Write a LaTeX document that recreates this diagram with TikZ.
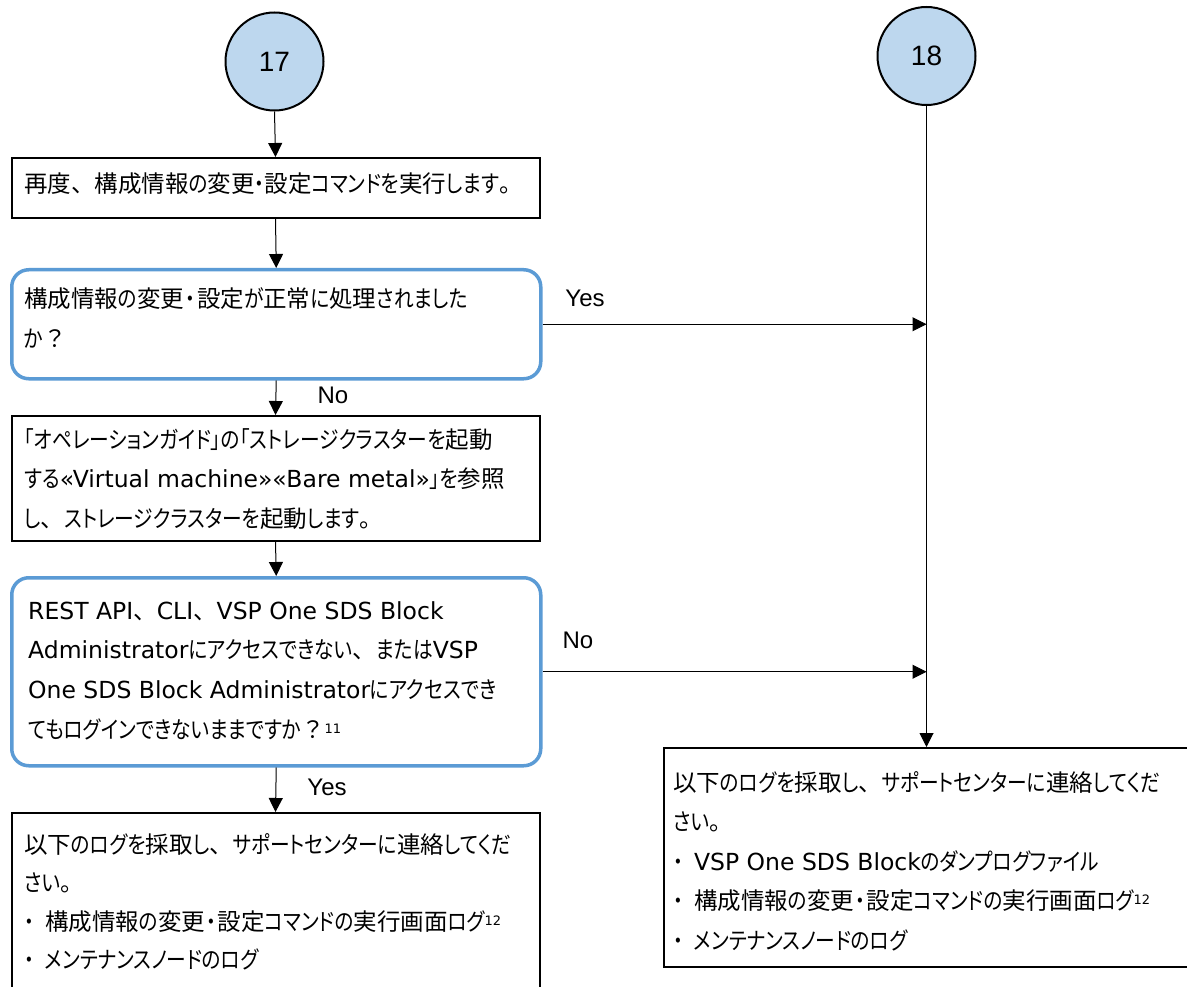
\documentclass[tikz,border=0pt]{standalone}
\usepackage{fontspec}
\setmainfont{DejaVu Sans}
\newfontfamily\jpfont{Noto Sans CJK JP}
\newfontfamily\kanafont[RawFeature=+palt, FakeStretch=0.84]{Noto Sans CJK JP}
\newfontfamily\latfont{DejaVu Sans}
\newfontfamily\lblfont{Liberation Sans}
\usetikzlibrary{arrows.meta}
\definecolor{nodeblue}{HTML}{BDD7EE}
\definecolor{edgeblue}{HTML}{5B9BD5}
\newcommand\lat[1]{{\latfont #1}}
\newcommand\K[1]{{\kanafont #1}}
\newcommand\dt{\hspace{1.5pt}\K{・}\hspace{1.5pt}}
\newcommand\bul{\K{・}\hspace{11pt}}
\newcommand\supnum[1]{\raisebox{5pt}{\latfont\fontsize{13}{13}\selectfont #1}}
\begin{document}
\begin{tikzpicture}[x=1pt,y=-1pt,
  conn/.style={circle, draw=black, line width=2pt, fill=nodeblue, minimum size=98pt, inner sep=0pt, font=\lblfont\fontsize{28}{30}\selectfont},
  procbox/.style={rectangle, draw=black, line width=2pt, anchor=north west, inner sep=0pt},
  decbox/.style={rectangle, draw=edgeblue, line width=3.5pt, rounded corners=17pt, anchor=north west, inner sep=0pt},
  txt/.style={anchor=base west, inner sep=0pt, font=\jpfont\fontsize{23.5}{28}\selectfont},
  lbl/.style={anchor=base, inner sep=0pt, font=\lblfont\fontsize{24}{28}\selectfont},
  arr/.style={draw=black, line width=1pt, -{Triangle[width=14pt,length=14pt]}}]
\clip (0,0) rectangle (1187,987);
\fill[white] (0,0) rectangle (1187,987);

% connectors (circles)
\node[conn] (c17) at (274.5,61.5) {17};
\node[conn] (c18) at (926.5,56) {18};

% boxes
\node[procbox, minimum width=528pt, minimum height=60pt] (b1) at (10.5,157) {};
\node[decbox, minimum width=529pt, minimum height=109pt] (d1) at (10,268) {};
\node[procbox, minimum width=528pt, minimum height=125pt] (b2) at (10.5,415) {};
\node[decbox, minimum width=529pt, minimum height=188pt] (d2) at (10,576) {};
\node[procbox, minimum width=528pt, minimum height=200pt] (b3) at (10.5,812) {};
\node[procbox, minimum width=545pt, minimum height=219pt] (b4) at (663,747) {};

% texts
\node[txt] (b1l1) at (24,193) {再度、構成情報\K{の}変更\K{・}設定\K{コマンドを}実行\K{します}。};

\node[txt] (d1l1) at (24,308) {構成情報\K{の}変更\dt 設定\K{が}正常\K{に}処理\K{されました}};
\node[txt] (d1l2) at (24,348) {\K{か}？};

\node[txt] (b2l1) at (24,448.5) {\K{「オペレーションガイド」の「ストレージクラスターを}起動};
\node[txt] (b2l2) at (24,487) {\K{する}\lat{«Virtual machine»«Bare metal»}\K{」を}参照};
\node[txt] (b2l3) at (24,527) {\K{し}、\K{ストレージクラスターを}起動\K{します}。};

\node[txt] (d2l1) at (28,619) {\lat{REST API}、\lat{CLI}、\lat{VSP One SDS Block}};
\node[txt] (d2l2) at (28,658.5) {\lat{Administrator}\K{にアクセスできない}、\K{または}\lat{VSP}};
\node[txt] (d2l3) at (28,698) {\lat{One SDS Block Administrator}\K{にアクセスでき}};
\node[txt] (d2l4) at (28,738) {\K{てもログインできないままですか}？\supnum{11}};

\node[txt] (b3l1) at (24,853) {以下\K{のログを}採取\K{し}、\K{サポートセンターに}連絡\K{してくだ}};
\node[txt] (b3l2) at (24,891.5) {\K{さい}。};
\node[txt] (b3l3) at (24,930) {\bul 構成情報\K{の}変更\dt 設定\K{コマンドの}実行画面\K{ログ}\supnum{12}};
\node[txt] (b3l4) at (24,968.5) {\bul \K{メンテナンスノードのログ}};

\node[txt] (b4l1) at (673,791) {以下\K{のログを}採取\K{し}、\K{サポートセンターに}連絡\K{してくだ}};
\node[txt] (b4l2) at (673,830.5) {\K{さい}。};
\node[txt] (b4l3) at (673,870) {\bul \lat{VSP One SDS Block}\K{のダンプログファイル}};
\node[txt] (b4l4) at (673,909.5) {\bul 構成情報\K{の}変更\dt 設定\K{コマンドの}実行画面\K{ログ}\supnum{12}};
\node[txt] (b4l5) at (673,949) {\bul \K{メンテナンスノードのログ}};

% junctions on the right trunk
\coordinate (j1) at (c18 |- d1.east);
\coordinate (j2) at (c18 |- d2.east);
\coordinate (j3) at (c18 |- b4.north);

% arrows
\draw[arr] (c17.south) -- (b1.north);
\draw[arr] (b1.south) -- (d1.north);
\draw[arr] (d1.south) -- (b2.north);
\draw[arr] (b2.south) -- (d2.north);
\draw[arr] (d2.south) -- (b3.north);
\draw[arr] (d1.east) -- (j1);
\draw[arr] (d2.east) -- (j2);
\draw[arr] (c18.south) -- (j3);

% labels
\node[lbl] (yes1) at (585,307) {Yes};
\node[lbl] (no1) at (333,403) {No};
\node[lbl] (no2) at (578,648) {No};
\node[lbl] (yes2) at (327,795) {Yes};
\end{tikzpicture}
\end{document}
